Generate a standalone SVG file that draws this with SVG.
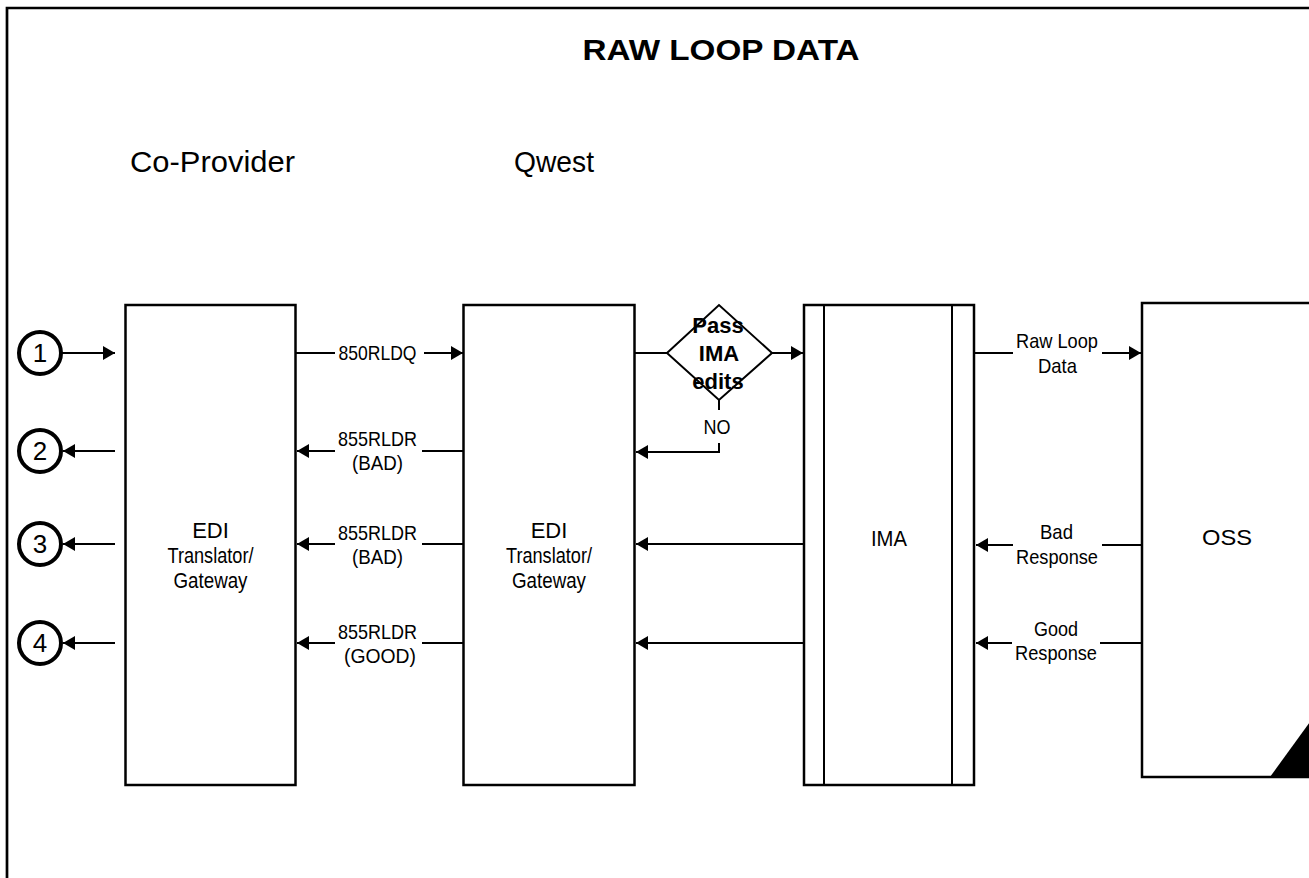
<svg xmlns="http://www.w3.org/2000/svg" width="1309" height="878" viewBox="0 0 1309 878">
<style>
.box{fill:#fff;stroke:#000;stroke-width:2.5}
.ln{fill:none;stroke:#000;stroke-width:2}
.t{font-family:"Liberation Sans",Arial,sans-serif;font-size:21px;fill:#000;text-anchor:middle}
.bl{font-family:"Liberation Sans",Arial,sans-serif;font-size:22px;fill:#000;text-anchor:middle}
.b{font-family:"Liberation Sans",Arial,sans-serif;font-weight:bold;fill:#000;text-anchor:middle}
.big{font-family:"Liberation Sans",Arial,sans-serif;font-size:29px;fill:#000}
.circ{fill:#fff;stroke:#000;stroke-width:4}
.num{font-family:"Liberation Sans",Arial,sans-serif;font-size:26px;fill:#000;text-anchor:middle}
</style>
<defs>
<marker id="ah" markerUnits="userSpaceOnUse" markerWidth="13" markerHeight="15" refX="12" refY="7" orient="auto">
<path d="M0,0 L12,7 L0,14 Z" fill="#000"/>
</marker>
</defs>
<rect width="1309" height="878" fill="#fff"/>
<path d="M7,878 V8 H1309" fill="none" stroke="#000" stroke-width="2.7"/>
<text class="b" x="721" y="60" font-size="29" textLength="277" lengthAdjust="spacingAndGlyphs">RAW LOOP DATA</text>
<text class="big" x="130" y="172" textLength="165" lengthAdjust="spacingAndGlyphs">Co-Provider</text>
<text class="big" x="514" y="172" textLength="80" lengthAdjust="spacingAndGlyphs">Qwest</text>

<g id="n1"><circle class="circ" cx="40" cy="353" r="21"/><text class="num" x="40" y="362">1</text></g>
<g id="n2"><circle class="circ" cx="40" cy="451" r="21"/><text class="num" x="40" y="460">2</text></g>
<g id="n3"><circle class="circ" cx="40" cy="544" r="21"/><text class="num" x="40" y="553">3</text></g>
<g id="n4"><circle class="circ" cx="40" cy="643" r="21"/><text class="num" x="40" y="652">4</text></g>

<g id="edi1"><rect class="box" x="125.5" y="305" width="170" height="480"/>
<text class="bl" x="210.5" y="538">EDI</text>
<text class="bl" x="210.5" y="563" textLength="86" lengthAdjust="spacingAndGlyphs">Translator/</text>
<text class="bl" x="210.5" y="588" textLength="74" lengthAdjust="spacingAndGlyphs">Gateway</text></g>

<g id="edi2"><rect class="box" x="463.5" y="305" width="171" height="480"/>
<text class="bl" x="549" y="538">EDI</text>
<text class="bl" x="549" y="563" textLength="86" lengthAdjust="spacingAndGlyphs">Translator/</text>
<text class="bl" x="549" y="588" textLength="74" lengthAdjust="spacingAndGlyphs">Gateway</text></g>

<g id="decision"><path d="M667,353 L719,305 L772,353 L719,400 Z" fill="#fff" stroke="#000" stroke-width="2"/>
<text class="b" x="718" y="333" font-size="22">Pass</text>
<text class="b" x="719" y="361" font-size="22">IMA</text>
<text class="b" x="718" y="389" font-size="22">edits</text></g>

<g id="ima"><rect class="box" x="804" y="305" width="170" height="480"/>
<path class="ln" d="M824,305 V785 M952,305 V785" stroke-width="2.5"/>
<text class="bl" x="889" y="546" textLength="36" lengthAdjust="spacingAndGlyphs">IMA</text></g>

<g id="oss"><rect class="box" x="1142" y="303" width="180" height="474"/>
<polygon points="1270,777 1312,777 1312,719" fill="#000"/>
<text class="bl" x="1227" y="545" textLength="50" lengthAdjust="spacingAndGlyphs">OSS</text></g>

<g id="connectors">
<path class="ln" d="M62,353 H115" marker-end="url(#ah)"/>
<path class="ln" d="M115,451 H63" marker-end="url(#ah)"/>
<path class="ln" d="M115,544 H63" marker-end="url(#ah)"/>
<path class="ln" d="M115,643 H63" marker-end="url(#ah)"/>

<path class="ln" d="M296,353 H335"/>
<path class="ln" d="M424,353 H463" marker-end="url(#ah)"/>
<text class="t" x="377.5" y="360" textLength="78" lengthAdjust="spacingAndGlyphs">850RLDQ</text>

<path class="ln" d="M463,451 H422"/>
<path class="ln" d="M335,451 H297" marker-end="url(#ah)"/>
<text class="t" x="377.5" y="446" textLength="79" lengthAdjust="spacingAndGlyphs">855RLDR</text>
<text class="t" x="377.5" y="470" textLength="51" lengthAdjust="spacingAndGlyphs">(BAD)</text>

<path class="ln" d="M463,544 H422"/>
<path class="ln" d="M335,544 H297" marker-end="url(#ah)"/>
<text class="t" x="377.5" y="540" textLength="79" lengthAdjust="spacingAndGlyphs">855RLDR</text>
<text class="t" x="377.5" y="564" textLength="51" lengthAdjust="spacingAndGlyphs">(BAD)</text>

<path class="ln" d="M463,643 H422"/>
<path class="ln" d="M335,643 H297" marker-end="url(#ah)"/>
<text class="t" x="377.5" y="639" textLength="79" lengthAdjust="spacingAndGlyphs">855RLDR</text>
<text class="t" x="380" y="663" textLength="72" lengthAdjust="spacingAndGlyphs">(GOOD)</text>

<path class="ln" d="M635,353 H667"/>
<path class="ln" d="M772,353 H803" marker-end="url(#ah)"/>
<path class="ln" d="M719,400 V410"/>
<path class="ln" d="M719,443 V452 H636" marker-end="url(#ah)"/>
<text class="t" x="717" y="434" textLength="27" lengthAdjust="spacingAndGlyphs">NO</text>

<path class="ln" d="M803,544 H636" marker-end="url(#ah)"/>
<path class="ln" d="M803,643 H636" marker-end="url(#ah)"/>

<path class="ln" d="M975,353 H1013"/>
<path class="ln" d="M1102,353 H1141" marker-end="url(#ah)"/>
<text class="t" x="1057" y="348" textLength="82" lengthAdjust="spacingAndGlyphs">Raw Loop</text>
<text class="t" x="1057.5" y="373" textLength="39" lengthAdjust="spacingAndGlyphs">Data</text>

<path class="ln" d="M1141,545 H1102"/>
<path class="ln" d="M1013,545 H976" marker-end="url(#ah)"/>
<text class="t" x="1056.5" y="539" textLength="33" lengthAdjust="spacingAndGlyphs">Bad</text>
<text class="t" x="1057" y="564" textLength="82" lengthAdjust="spacingAndGlyphs">Response</text>

<path class="ln" d="M1141,643 H1100"/>
<path class="ln" d="M1012,643 H976" marker-end="url(#ah)"/>
<text class="t" x="1056" y="636" textLength="44" lengthAdjust="spacingAndGlyphs">Good</text>
<text class="t" x="1056" y="660" textLength="82" lengthAdjust="spacingAndGlyphs">Response</text>
</g>
</svg>
